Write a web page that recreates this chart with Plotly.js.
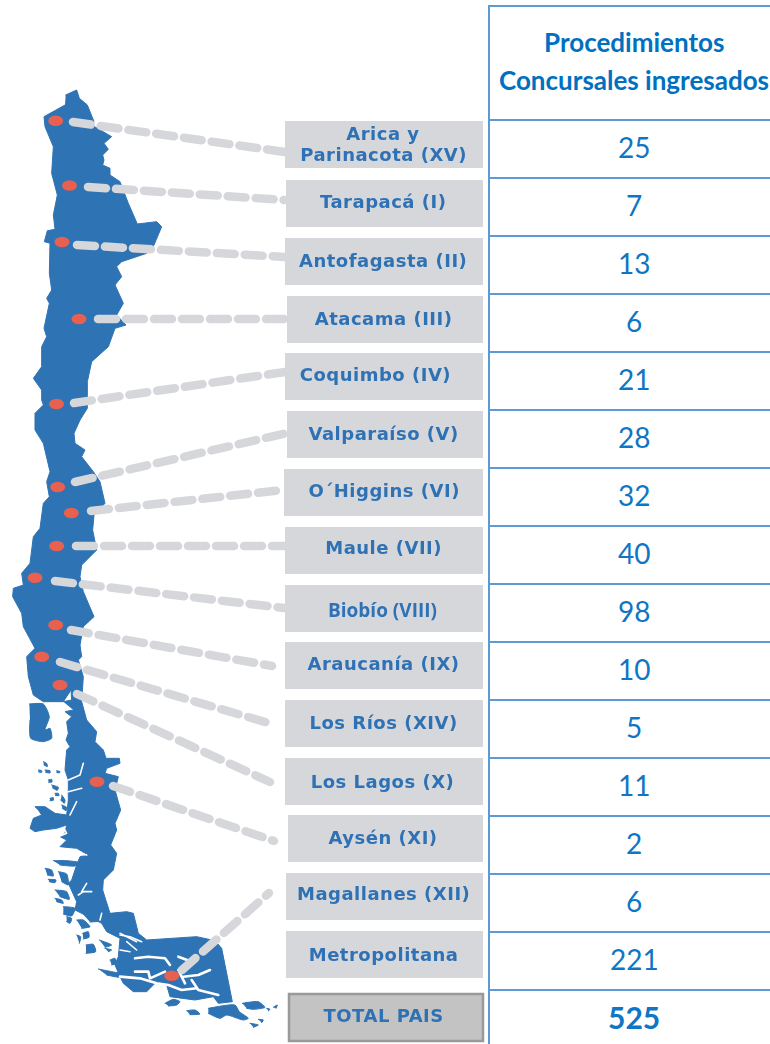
<!DOCTYPE html>
<html><head><meta charset="utf-8">
<script src="https://cdn.plot.ly/plotly-3.0.1.min.js"></script>
<style>html,body{margin:0;padding:0;background:#fff}#chart{width:770px;height:1044px}
#defs{position:absolute;width:0;height:0}
.scatterlayer path{stroke-linecap:round !important;stroke-linejoin:round !important}
.scatterlayer{filter:url(#soft)}
</style>
</head><body>
<svg id="defs"><filter id="soft" x="-5%" y="-5%" width="110%" height="110%"><feGaussianBlur stdDeviation="0.7"/></filter><filter id="softText" x="-5%" y="-20%" width="110%" height="140%"><feGaussianBlur stdDeviation="0.4"/></filter></svg>
<div id="chart"></div>
<script>
// ---------- table data ----------
const headerLines = ["Procedimientos", "Concursales ingresados"];
const regions = ["Arica y<br>Parinacota (XV)", "Tarapacá (I)", "Antofagasta (II)", "Atacama (III)", "Coquimbo (IV)", "Valparaíso (V)", "O´Higgins (VI)", "Maule (VII)", "Biobío (VIII)", "Araucanía (IX)", "Los Ríos (XIV)", "Los Lagos (X)", "Aysén (XI)", "Magallanes (XII)", "Metropolitana", "TOTAL PAIS"];
const values = [25, 7, 13, 6, 21, 28, 32, 40, 98, 10, 5, 11, 2, 6, 221, 525];
const labelX = [383, 383, 383, 383, 375, 383, 384, 383, 382, 383, 383, 382, 383, 383, 383, 383];
const labelY = [144, 201, 260, 318, 374, 433, 490, 547, 610, 663, 722, 781, 837, 893, 954, 1015];
const boxLeft = [285, 286, 285, 287, 285, 287, 284, 285, 285, 285, 285, 285, 288, 286, 286];
const boxTop = [121, 180, 238, 296, 353, 411, 469, 527, 585, 642, 700, 758, 815, 873, 931];
const rowLines = [120, 178, 236, 294, 352, 410, 468, 526, 584, 642, 700, 758, 816, 874, 932, 990];

// ---------- connectors: dot centre, then line start and end ----------
const dotX = [55.7, 69.5, 62, 79, 56.5, 57.7, 71.3, 56.7, 35, 55.7, 41.7, 60, 97, 171.7];
const dotY = [120.7, 185.5, 242, 319, 404, 487, 513, 546, 577.7, 625, 656.7, 685, 781.7, 975.7];
const lineX0 = [73, 88, 77, 98, 74, 75, 91, 76, 55, 71, 60, 77, 113, 182];
const lineY0 = [122, 187, 245, 319, 403, 482, 511, 546, 581, 630, 662, 694, 786, 970];
const lineX1 = [285, 284, 285, 287, 285, 287, 283, 285, 284, 272, 272, 270, 274, 269];
const lineY1 = [152, 200, 257, 319, 372, 433, 490, 546, 608, 666, 724, 782, 841, 893];

const mapNorth = [
 [0, 80, [[197,45],[230,30],[238,55],[262,75],[282,125],[275,135],[335,170],[312,190],[325,208],[308,225],[312,240],[308,255],[330,265],[330,285],[360,305],[385,370],[412,432],[470,425],[485,440],[462,495],[440,520],[365,545],[350,560],[365,590],[345,615],[370,670],[350,705],[378,735],[345,745],[325,800],[275,845],[262,905]]],
 [0, 400, [[262,0],[262,25],[240,60],[222,100],[225,130],[255,150],[245,170],[280,215],[300,245],[315,310],[282,345],[278,390],[290,450],[245,495],[240,530],[250,575],[282,650],[250,680],[240,735],[245,770],[235,780],[250,830],[245,905],[215,900],[213,870],[190,905],[130,905],[100,885],[85,830],[80,770],[105,745],[70,680],[65,640],[38,590],[40,565],[70,555],[65,520],[90,490],[100,410],[120,385],[130,310],[148,290],[140,245],[150,215],[130,130],[105,90],[105,40],[130,15],[125,0]]],
 [0, 80, [[125,930],[100,895],[125,860],[125,800],[140,770],[132,745],[148,670],[140,655],[155,630],[148,580],[150,490],[133,485],[142,452],[165,448],[160,405],[172,345],[155,280],[160,200],[148,170],[135,140],[132,110],[195,75]]]
];
const mapSouth = [
 [0, 720, [[190,-55],[215,-60],[245,-55],[260,0],[290,35],[285,65],[310,90],[318,115],[358,115],[360,130],[320,145],[315,160],[355,170],[345,210],[362,270],[345,310],[350,330],[332,375],[350,400],[340,450],[310,480],[308,510],[330,580],[380,575],[400,580],[415,640],[440,660]]],
 [120, 920, [[230,50],[285,62],[305,85],[337,245],[295,250],[280,230],[225,240],[150,230],[140,195],[105,190],[80,215],[40,215],[10,190],[0,170]]],
 [40, 860, [[225,315],[235,290],[240,235],[200,215],[185,190],[105,150],[110,125],[85,70]]],
 [30, 750, [[125,390],[140,345],[150,320],[175,315],[140,295],[90,290],[110,270],[90,260],[105,250],[110,225],[80,235],[40,240],[15,245],[0,235],[10,205],[35,195],[25,180],[15,170],[45,170],[75,190],[110,195],[115,150],[115,125],[115,90],[105,60],[110,0]]],
 [0, 720, [[210,80],[198,60],[205,40],[200,5],[215,-10],[195,-25],[220,-30]]]
];
const mapIslands = [
 [0, 400, [[88,912],[130,912],[148,950],[135,990],[150,985],[155,1015],[130,1025],[92,1015],[90,960]]],
 [30, 750, [[40,35],[50,40],[52,50],[42,45]]], [30, 750, [[25,60],[35,62],[35,67],[26,66]]],
 [30, 750, [[45,60],[60,62],[60,69],[47,67]]], [30, 750, [[80,62],[90,65],[88,69],[80,67]]],
 [30, 750, [[55,90],[65,88],[66,96],[56,97]]], [30, 750, [[65,105],[85,112],[82,121],[68,114]]],
 [30, 750, [[75,130],[85,130],[87,137],[76,136]]], [30, 750, [[95,135],[105,150],[103,160],[92,150]]],
 [30, 750, [[60,145],[70,143],[70,151],[60,152]]], [30, 750, [[95,165],[110,172],[108,182],[97,175]]],
 [40, 860, [[40,2],[80,2],[120,8],[105,18],[60,15]]], [40, 860, [[15,25],[35,30],[40,48],[22,45]]], [40, 860, [[25,58],[48,60],[45,68],[28,65]]],
 [40, 860, [[55,35],[80,42],[85,75],[65,65]]], [40, 860, [[45,90],[80,95],[88,118],[60,110]]],
 [40, 860, [[45,115],[65,120],[70,130],[50,125]]], [40, 860, [[70,140],[105,145],[95,168],[70,162]]],
 [40, 860, [[80,170],[95,175],[90,190],[80,185]]], [40, 860, [[110,180],[130,180],[150,200],[125,205]]],
 [40, 860, [[128,220],[145,215],[147,232],[130,237]]], [40, 860, [[110,225],[122,230],[118,250]]],
 [40, 860, [[138,255],[160,253],[167,275],[138,280]]], [40, 860, [[175,327],[215,335],[265,345],[240,352],[200,345]]],
 [40, 860, [[210,300],[225,295],[230,310],[215,315]]], [40, 860, [[178,240],[215,255],[195,262]]],
 [40, 860, [[195,265],[215,270],[205,275]]], [40, 860, [[125,158],[160,165],[185,182],[150,186]]],
 [120, 920, [[200,272],[225,270],[240,282],[210,284]]],
 [120, 920, [[265,265],[345,255],[358,275],[385,295],[370,300],[320,285],[300,295],[265,280]]],
 [120, 920, [[367,250],[415,245],[435,262],[400,268],[380,265]]],
 [120, 920, [[390,310],[415,315],[400,322]]], [120, 920, [[415,298],[430,300],[425,308]]],
 [120, 920, [[440,265],[450,268],[445,273]]], [120, 920, [[460,262],[472,255],[468,265]]],
 [120, 920, [[135,250],[160,238],[180,245],[170,255],[145,258]]]
];
// channels cut through the land, as white strokes
const fjordsThin = [
 [30, 750, [[160,40],[150,75],[115,90]]], [30, 750, [[115,125],[155,115]]], [30, 750, [[120,195],[140,155]]],
 [30, 750, [[85,260],[110,250],[105,240]]], [30, 750, [[110,305],[170,315]]],
 [40, 860, [[125,95],[140,70]]], [40, 860, [[130,95],[155,95]]], [40, 860, [[115,105],[130,95]]],
 [40, 860, [[240,220],[290,245]]], [40, 860, [[185,160],[180,180]]],
 [120, 920, [[0,45],[30,50],[65,65]]], [120, 920, [[20,65],[50,90]]], [120, 920, [[0,90],[30,95]]]
];
const fjordsWide = [
 [120, 920, [[45,115],[85,110],[135,115],[150,135]]], [120, 920, [[45,155],[85,155],[90,175],[135,155]]],
 [120, 920, [[175,110],[215,125]]], [120, 920, [[190,170],[235,165],[270,150]]], [120, 920, [[215,180],[235,210],[295,225]]],
 [120, 920, [[0,170],[60,175],[110,190],[145,195],[185,210],[230,205]]], [120, 920, [[175,150],[195,190]]]
];

const toPx = segs => { const xs = [], ys = []; segs.forEach(([ox, oy, pts]) => pts.forEach(([x, y]) => { xs.push(ox + x / 3); ys.push(oy + y / 3); })); return [xs, ys]; };
const separate = segs => { const xs = [], ys = []; segs.forEach(s => { const [a, b] = toPx([s]); xs.push(...a, null); ys.push(...b, null); }); return [xs, ys]; };

const BLUE = "#2E73B4", GREY = "#D6D7DB", LINE = "#5B9BD5", TXT = "#0F75C5", LAB = "#2F72B5";
const traces = [];
const land = (xy, smooth) => traces.push({x: xy[0], y: xy[1], mode: "lines", fill: "toself", fillcolor: BLUE, line: {color: BLUE, width: 1, shape: smooth ? "spline" : "linear", smoothing: 0.6}, hoverinfo: "skip", showlegend: false});
land(toPx(mapNorth), false); land(toPx(mapSouth), false); land(separate(mapIslands), true);
const stroke = (xy, w) => traces.push({x: xy[0], y: xy[1], mode: "lines", line: {color: "#fff", width: w}, hoverinfo: "skip", showlegend: false});
stroke(separate(fjordsThin), 1.6); stroke(separate(fjordsWide), 2.6);

const cx = [], cy = [];
dotX.forEach((_, i) => { cx.push(lineX0[i], lineX1[i], null); cy.push(lineY0[i], lineY1[i], null); });
traces.push({x: cx, y: cy, mode: "lines", line: {color: GREY, width: 8.5, dash: "18px,10px"}, hoverinfo: "skip", showlegend: false});

const shapes = [];
boxTop.forEach((t, i) => shapes.push({type: "rect", layer: "below", x0: boxLeft[i], x1: 483, y0: t, y1: t + 47, fillcolor: GREY, line: {width: 0}}));
shapes.push({type: "rect", layer: "below", x0: 289, x1: 483, y0: 994, y1: 1041, fillcolor: "#C3C3C3", line: {color: "#999999", width: 2.5}});
shapes.push({type: "line", x0: 489, x1: 489, y0: 5, y1: 1044, line: {color: LINE, width: 2}});
shapes.push({type: "line", x0: 488, x1: 770, y0: 6, y1: 6, line: {color: LINE, width: 2}});
rowLines.forEach(y => shapes.push({type: "line", x0: 489, x1: 770, y0: y, y1: y, line: {color: LINE, width: 2}}));
dotX.forEach((x, i) => shapes.push({type: "circle", x0: x - 7.5, x1: x + 7.5, y0: dotY[i] - 5.3, y1: dotY[i] + 5.3, fillcolor: "#E8604F", line: {width: 0}}));

const annotations = [];
const note = (text, x, y, font) => annotations.push({text, x, y, xref: "x", yref: "y", showarrow: false, xanchor: "center", yanchor: "middle", font, align: "center"});
values.forEach((v, i) => { const last = i === values.length - 1;
  note(String(v), 634, rowLines[i] + 27, {family: "Lato", size: last ? 30 : 28, color: TXT, weight: last ? 700 : 400}); });
note(headerLines[0], 634, 42, {family: "Lato", size: 26, color: "#0070C0", weight: 700});
note(headerLines[1], 634, 80, {family: "Lato", size: 26, color: "#0070C0", weight: 700});
const spaced = [], soft = [];
regions.forEach((r, i) => {
  const parts = r.split("<br>");
  parts.forEach((p, k) => {
    soft.push(annotations.length);
    if (i !== 8) spaced.push(annotations.length);
    note(p, labelX[i], labelY[i] + (k - (parts.length - 1) / 2) * 21, {family: i === 8 ? "Open Sans" : "DejaVu Sans", size: i === 8 ? 19 : 18, color: LAB, weight: 700});
  });
});
const css = document.createElement("style");
css.textContent = spaced.map(n => `.annotation[data-index="${n}"] text`).join(",") + "{letter-spacing:.5px}" +
  soft.map(n => `.annotation[data-index="${n}"] text`).join(",") + "{filter:url(#softText)}";
document.head.appendChild(css);

Plotly.newPlot("chart", traces, {
  width: 770, height: 1044, margin: {l: 0, r: 0, t: 0, b: 0}, paper_bgcolor: "#fff", plot_bgcolor: "#fff", showlegend: false,
  xaxis: {range: [0, 770], visible: false, fixedrange: true},
  yaxis: {range: [1044, 0], visible: false, fixedrange: true},
  shapes, annotations
}, {displayModeBar: false, staticPlot: true});
</script></body></html>
